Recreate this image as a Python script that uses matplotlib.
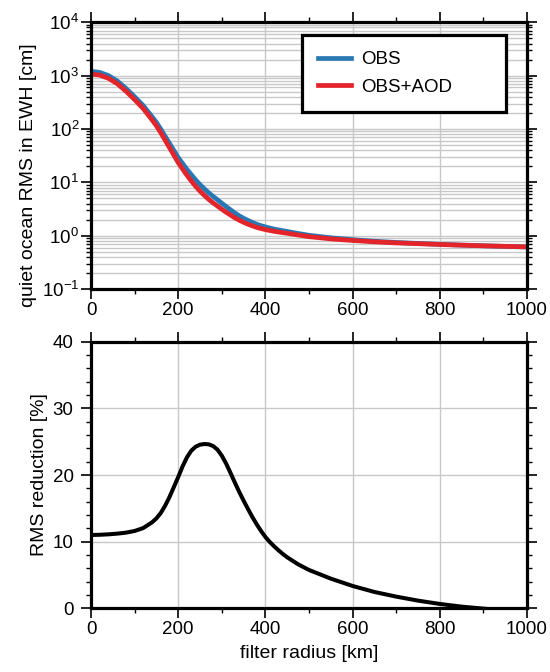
import numpy as np
import matplotlib.pyplot as plt
from matplotlib.ticker import MultipleLocator, LogLocator, NullFormatter

plt.rcParams['font.family'] = ['Liberation Sans', 'DejaVu Sans']

# filter radius [km]
radius = [0, 20, 40, 60, 80, 100, 120, 140,
          150, 160, 170, 180, 190, 200, 210, 220, 230, 240, 250, 260, 270, 280,
          290, 300, 310, 320, 330, 340, 350, 360, 370, 380, 390, 400, 410, 420,
          430, 440, 450, 475, 500,
          550, 600, 650, 700, 750, 800, 850, 900, 950, 1000]

# quiet ocean RMS in EWH [cm]
rms_obs = [1204, 1150, 1002, 797, 579, 402, 273, 170,
           133, 99.3, 72.9, 53.7, 39.6, 29.1, 22.6, 17.5, 13.9, 11.1, 9.05,
           7.55, 6.35, 5.44, 4.71, 4.06, 3.51, 3.05, 2.66, 2.36, 2.12, 1.93,
           1.77, 1.64, 1.54, 1.46, 1.39, 1.33, 1.28, 1.24, 1.20, 1.10, 1.018,
           0.912, 0.841, 0.786, 0.746, 0.716, 0.688, 0.666, 0.646, 0.629, 0.614]
rms_obs_aod = [1071, 1023, 891, 708, 513, 355, 240, 148,
               115, 85.1, 61.7, 44.7, 32.4, 23.4, 17.8, 13.6, 10.6, 8.41, 6.84,
               5.69, 4.79, 4.12, 3.59, 3.13, 2.75, 2.43, 2.16, 1.95, 1.78, 1.64,
               1.53, 1.43, 1.36, 1.30, 1.25, 1.21, 1.17, 1.14, 1.11, 1.03, 0.959,
               0.871, 0.813, 0.767, 0.733, 0.708, 0.684, 0.664, 0.646, 0.631, 0.617]

# RMS reduction [%]
reduction = [11.0, 11.03, 11.1, 11.2, 11.35, 11.6, 12.05, 12.9,
             13.5, 14.3, 15.4, 16.7, 18.2, 19.7, 21.3, 22.65, 23.65, 24.25, 24.55,
             24.65, 24.6, 24.35, 23.8, 22.9, 21.7, 20.3, 18.85, 17.45, 16.15,
             14.9, 13.7, 12.6, 11.6, 10.7, 9.95, 9.3, 8.7, 8.15, 7.65, 6.6, 5.75,
             4.45, 3.35, 2.45, 1.75, 1.15, 0.65, 0.25, -0.05, -0.3, -0.5]

grid_col = '#c8c8c8'
frame_lw = 2.3


def style_axes(ax):
    for sp in ax.spines.values():
        sp.set_linewidth(frame_lw)
    ax.set_axisbelow(True)
    ax.tick_params(which='both', direction='out', top=True, right=True,
                   labeltop=False, labelright=False, labelsize=13.5, pad=2)
    ax.tick_params(which='major', length=7.5, width=1.2)
    ax.tick_params(which='minor', length=3.5, width=1.0)
    ax.set_xlim(0, 1000)
    ax.xaxis.set_major_locator(MultipleLocator(200))
    ax.xaxis.set_minor_locator(MultipleLocator(100))
    ax.grid(which='major', axis='x', color=grid_col, lw=1.0)


fig = plt.figure(figsize=(5.5, 6.72), dpi=100)

# top panel
ax1 = fig.add_axes([0.1655, 0.5699, 0.7927, 0.3969])
style_axes(ax1)
ax1.set_yscale('log')
ax1.set_ylim(0.1, 1e4)
ax1.yaxis.set_major_locator(LogLocator(base=10, numticks=10))
ax1.yaxis.set_minor_locator(LogLocator(base=10, subs=np.arange(2, 10), numticks=20))
ax1.yaxis.set_minor_formatter(NullFormatter())
ax1.grid(which='both', axis='y', color=grid_col, lw=1.0)
ax1.tick_params(axis='y', which='major', pad=1)
ax1.plot(radius, rms_obs, color='#2878b4', lw=3.4, label='OBS')
ax1.plot(radius, rms_obs_aod, color='#e3242b', lw=3.4, label='OBS+AOD')
ax1.set_ylabel('quiet ocean RMS in EWH [cm]', fontsize=14)
ax1.yaxis.set_label_coords(-0.125, 0.427)
leg = ax1.legend(loc='upper left', bbox_to_anchor=(0.485, 0.0, 0.466, 0.952),
                 mode='expand', fontsize=13.5, fancybox=False, framealpha=1,
                 edgecolor='black', borderpad=0.85, handlelength=1.75,
                 handletextpad=0.55, labelspacing=0.55, borderaxespad=0)
leg.get_frame().set_linewidth(2.3)

# bottom panel
ax2 = fig.add_axes([0.1655, 0.0948, 0.7927, 0.3967])
style_axes(ax2)
ax2.set_ylim(0, 40)
ax2.yaxis.set_major_locator(MultipleLocator(10))
ax2.yaxis.set_minor_locator(MultipleLocator(2))
ax2.grid(which='major', axis='y', color=grid_col, lw=1.0)
ax2.tick_params(axis='y', which='major', pad=5)
ax2.plot(radius, reduction, color='black', lw=2.9)
ax2.set_ylabel('RMS reduction [%]', fontsize=14)
ax2.yaxis.set_label_coords(-0.099, 0.5)
ax2.set_xlabel('filter radius [km]', fontsize=14, labelpad=5)

fig.savefig('out.png', dpi=100)
